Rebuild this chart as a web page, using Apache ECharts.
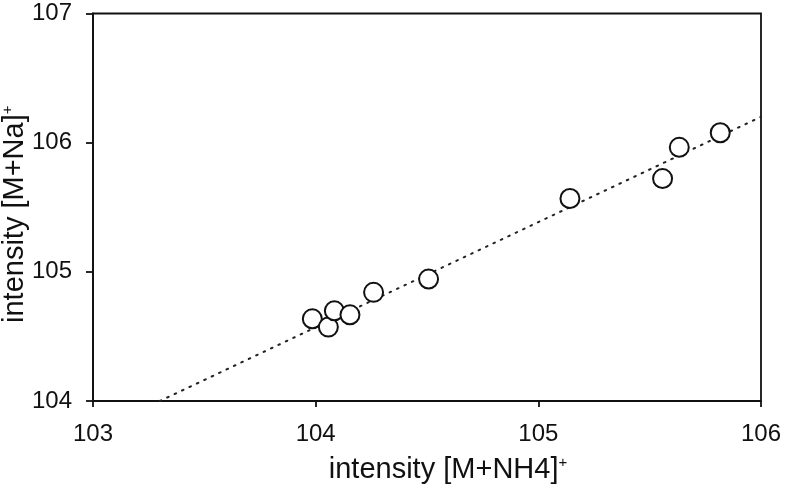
<!DOCTYPE html>
<html>
<head>
<meta charset="utf-8">
<script src="https://cdn.jsdelivr.net/npm/echarts@6/dist/echarts.min.js"></script>
<style>html,body{margin:0;padding:0;background:#fff;}#c{width:789px;height:489px;}</style>
</head>
<body>
<div id="c"></div>
<script>
var xValues = [103.985, 104.057, 104.084, 104.154, 104.260, 104.507, 105.142, 105.558, 105.633, 105.817];
var yValues = [104.636, 104.572, 104.698, 104.667, 104.841, 104.944, 105.568, 105.722, 105.964, 106.077];
var fitX = [103.30, 106.0];
var fitY = [104.0, 106.2];
var xTicks = [103, 104, 105, 106];
var yTicks = [104, 105, 106, 107];

var pts = xValues.map(function (x, i) { return [x, yValues[i]]; });
var fit = fitX.map(function (x, i) { return [x, fitY[i]]; });
var FONT = '"Liberation Sans", Arial, sans-serif';
var INK = '#111';

function titleRich() {
  return {
    a: {fontFamily: FONT, fontSize: 29, color: INK, lineHeight: 30},
    s: {fontFamily: FONT, fontSize: 15, color: INK, lineHeight: 15, verticalAlign: 'top'}
  };
}

var chart = echarts.init(document.getElementById('c'), null, {renderer: 'canvas'});
chart.setOption({
  animation: false,
  backgroundColor: '#fff',
  grid: {left: 93, right: 28, top: 13.5, bottom: 88, containLabel: false, outerBoundsMode: 'none',
         show: true, borderColor: INK, borderWidth: 1.8, backgroundColor: 'transparent'},
  xAxis: {
    type: 'value', min: xTicks[0], max: xTicks[xTicks.length - 1], interval: 1,
    axisLine: {show: true, lineStyle: {color: INK, width: 1.8}},
    axisTick: {show: true, inside: false, length: 6, lineStyle: {color: INK, width: 1.8}},
    splitLine: {show: false},
    axisLabel: {color: INK, fontFamily: FONT, fontSize: 24, margin: 21},
    name: '{a|intensity [M+NH4]}{s|+}',
    nameLocation: 'middle', nameGap: 54, nameMoveOverlap: false,
    nameTextStyle: {padding: [0, 0, 0, 42], rich: titleRich()}
  },
  yAxis: {
    type: 'value', min: yTicks[0], max: yTicks[yTicks.length - 1], interval: 1,
    axisLine: {show: true, lineStyle: {color: INK, width: 1.8}},
    axisTick: {show: true, inside: false, length: 7, lineStyle: {color: INK, width: 1.8}},
    splitLine: {show: false},
    axisLabel: {color: INK, fontFamily: FONT, fontSize: 24, margin: 21},
    name: '{a|intensity [M+Na]}{s|+}',
    nameLocation: 'middle', nameGap: 63, nameRotate: 90, nameMoveOverlap: false,
    nameTextStyle: {padding: [0, 14, 0, 0], rich: titleRich()}
  },
  series: [
    {
      type: 'line', data: fit, showSymbol: false, symbol: 'none',
      lineStyle: {color: '#222', width: 2, type: [1.6, 6.6], cap: 'round'},
      z: 1
    },
    {
      type: 'scatter', data: pts, symbol: 'circle', symbolSize: 19,
      itemStyle: {color: '#fff', borderColor: INK, borderWidth: 2, opacity: 1},
      z: 3
    }
  ]
});
</script>
</body>
</html>
